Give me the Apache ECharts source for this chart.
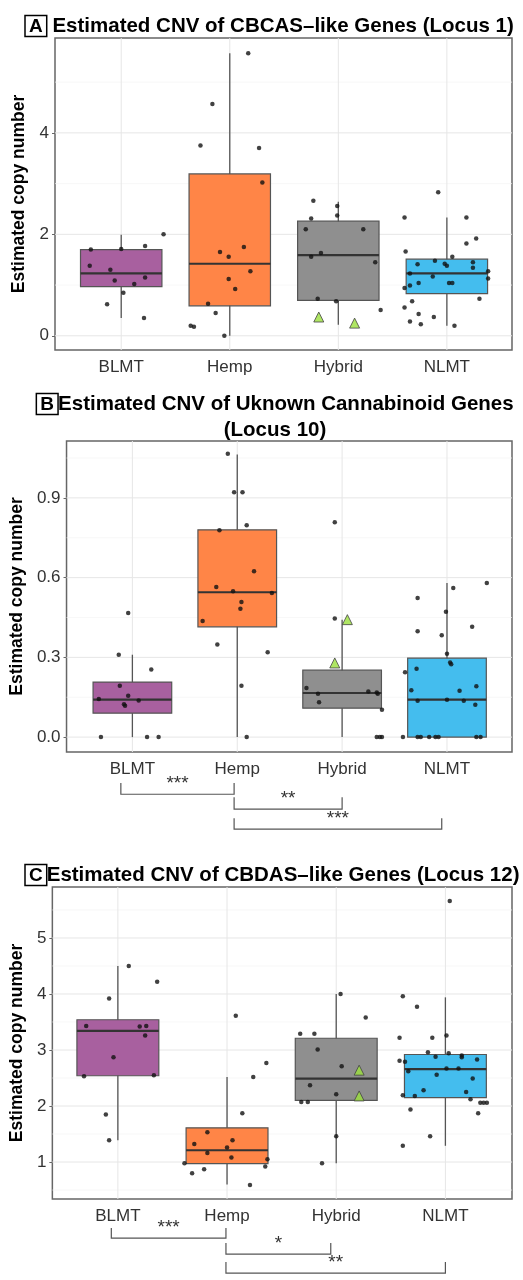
<!DOCTYPE html>
<html>
<head>
<meta charset="utf-8">
<script src="https://cdn.jsdelivr.net/npm/echarts@6/dist/echarts.min.js"></script>
<style>html,body{margin:0;padding:0;background:#fff}</style>
</head>
<body>
<div id="main" style="width:523px;height:1280px"></div>
<script>
// groups and fills
var cats = ['BLMT', 'Hemp', 'Hybrid', 'NLMT'];
var fills = ['#A8609F', '#FF8547', '#8F8F8F', '#44BDEE'];

// box stats: [x, low whisker, q1, median, q3, high whisker]
var boxA = [[1, 0.35, 0.97, 1.23, 1.70, 1.99], [2, 0, 0.59, 1.42, 3.19, 5.57], [3, 0.22, 0.70, 1.59, 2.26, 2.64], [4, 0.2, 0.83, 1.23, 1.51, 2.33]];
var boxB = [[1, 0, 0.09, 0.141, 0.207, 0.31], [2, 0, 0.415, 0.545, 0.78, 1.063], [3, 0, 0.109, 0.166, 0.252, 0.442], [4, 0, 0, 0.141, 0.297, 0.58]];
var boxC = [[1, 1.39, 2.54, 3.34, 3.54, 4.50], [2, 0.6, 0.97, 1.21, 1.61, 2.52], [3, 0.98, 2.10, 2.49, 3.21, 4.0], [4, 1.29, 2.15, 2.66, 2.92, 3.94]];

// jittered sample points [x, copy number]
var ptsA = [[0.72,1.70],[0.71,1.38],[1.0,1.71],[0.9,1.30],[0.94,1.09],[1.12,1.02],[1.02,0.85],[1.22,1.15],[1.22,1.77],[1.39,2.0],[0.87,0.62],[1.21,0.35],
  [2.17,5.57],[1.84,4.57],[1.73,3.75],[2.27,3.70],[2.30,3.02],[1.91,1.65],[1.99,1.56],[2.13,1.75],[2.19,1.27],[1.99,1.12],[2.05,0.92],[1.80,0.63],[1.87,0.45],[1.64,0.2],[1.67,0.18],[1.95,0.0],
  [2.77,2.66],[2.75,2.31],[2.70,2.10],[2.99,2.56],[2.99,2.37],[3.23,2.10],[2.75,1.56],[2.84,1.63],[3.34,1.45],[2.81,0.73],[2.98,0.68],[3.39,0.51],
  [3.92,2.83],[3.61,2.33],[4.18,2.33],[4.27,1.92],[4.18,1.82],[3.62,1.66],[3.73,1.41],[3.89,1.48],[3.98,1.42],[4.0,1.38],[4.05,1.56],[4.24,1.34],[4.24,1.45],[3.66,1.23],[3.87,1.17],[4.38,1.27],[4.38,1.13],[3.74,1.04],[3.66,0.99],[3.61,0.94],[4.02,1.04],[4.05,1.04],[4.30,0.73],[3.61,0.56],[3.68,0.68],[3.74,0.43],[3.88,0.37],[3.66,0.28],[3.76,0.23],[4.07,0.2]];
var triA = [[2.82,0.37],[3.15,0.25]];

var ptsB = [[0.87,0.31],[0.96,0.467],[0.88,0.193],[0.68,0.143],[0.96,0.156],[0.92,0.124],[0.93,0.118],[1.06,0.138],[1.18,0.254],[0.70,0],[1.14,0],[1.25,0],
  [1.91,1.066],[1.97,0.921],[2.05,0.921],[2.09,0.797],[1.83,0.778],[2.16,0.624],[1.80,0.565],[1.96,0.549],[2.04,0.508],[2.03,0.483],[2.33,0.542],[1.67,0.437],[1.81,0.348],[2.29,0.319],[2.04,0.193],[2.09,0],
  [2.93,0.808],[2.93,0.446],[2.66,0.185],[2.77,0.163],[2.78,0.131],[3.25,0.172],[3.33,0.168],[3.34,0.163],[3.38,0.103],[3.33,0],[3.36,0],[3.38,0],
  [4.38,0.58],[4.06,0.561],[3.72,0.523],[3.99,0.472],[4.24,0.415],[3.72,0.398],[3.95,0.383],[4.0,0.314],[4.03,0.281],[4.04,0.274],[3.6,0.244],[3.71,0.257],[3.66,0.176],[3.72,0.137],[4.0,0.141],[4.12,0.174],[4.16,0.137],[4.28,0.191],[4.27,0.122],
  [3.58,0],[3.72,0],[3.75,0],[3.83,0],[3.89,0],[3.92,0],[4.28,0],[4.32,0]];
var triB = [[3.05,0.442],[2.93,0.279]];

var ptsC = [[1.10,4.50],[1.36,4.22],[0.92,3.92],[0.71,3.43],[1.20,3.42],[1.26,3.43],[1.25,3.26],[0.96,2.87],[0.69,2.53],[1.33,2.55],[0.89,1.85],[0.92,1.39],
  [2.08,3.61],[2.36,2.77],[2.24,2.52],[2.14,1.87],[1.82,1.53],[1.70,1.32],[2.05,1.39],[2.0,1.26],[1.82,1.16],[2.04,1.08],[1.61,0.98],[2.37,1.05],[2.35,0.92],[1.68,0.80],[1.79,0.87],[2.21,0.59],
  [3.04,4.0],[3.27,3.58],[2.67,3.29],[2.80,3.29],[2.83,3.01],[3.05,2.71],[2.76,2.37],[3.0,2.21],[2.68,2.07],[2.74,2.07],[3.0,1.46],[2.87,0.98],
  [4.04,5.66],[3.61,3.96],[3.74,3.77],[3.58,3.22],[3.88,3.22],[4.01,3.26],[3.84,2.96],[4.03,2.94],[3.91,2.88],[4.15,2.90],[4.15,2.87],[4.29,2.83],[3.58,2.81],[3.63,2.79],[3.66,2.62],[4.01,2.67],[4.12,2.67],[3.92,2.56],[4.25,2.49],[4.19,2.25],[3.80,2.28],[3.61,2.19],[3.72,2.18],[4.23,2.12],[4.32,2.06],[4.35,2.06],[4.38,2.06],[3.68,1.94],[4.30,1.87],[3.86,1.46],[3.61,1.29]];
var triC = [[3.21,2.64],[3.21,2.18]];

// y tick labels (major) and minor grid values
var ticksA = [0, 2, 4], minorA = [1, 3, 5];
var ticksB = [0, 0.3, 0.6, 0.9], minorB = [0.15, 0.45, 0.75, 1.05];
var ticksC = [1, 2, 3, 4, 5], minorC = [0.5, 1.5, 2.5, 3.5, 4.5, 5.5];

// significance brackets [x1, x2, bar y, tick top y]
var brB = [[0.89, 1.97, -0.215, -0.173], [1.97, 3.0, -0.271, -0.226], [1.97, 3.95, -0.346, -0.305]];
var starsB = ['***', '**', '***'];
var brC = [[0.94, 1.99, -0.357, -0.179], [1.99, 2.95, -0.643, -0.446], [1.99, 4.0, -0.982, -0.786]];
var starsC = ['***', '*', '**'];

var panels = [
  { top: 38, bottom: 930, left: 55, xr: [0.39, 4.6], yr: [-0.28, 5.87], ticks: ticksA, minor: minorA, box: boxA, pts: ptsA, tri: triA, br: [], stars: [],
    title: '{b|A} Estimated CNV of CBCAS\u2013like Genes (Locus 1)', ttop: 8, fmt: function (v) { return v; } },
  { top: 441, bottom: 528, left: 52, xr: [0.372, 4.62], yr: [-0.056, 1.114], ticks: ticksB, minor: minorB, box: boxB, pts: ptsB, tri: triB, br: brB, stars: starsB,
    title: '{b|B}Estimated CNV of Uknown Cannabinoid Genes\n(Locus 10)', ttop: 386, fmt: function (v) { return v.toFixed(1); } },
  { top: 887, bottom: 81, left: 49, xr: [0.4, 4.61], yr: [0.34, 5.91], ticks: ticksC, minor: minorC, box: boxC, pts: ptsC, tri: triC, br: brC, stars: starsC,
    title: '{b|C}Estimated CNV of CBDAS\u2013like Genes (Locus 12)', ttop: 857, fmt: function (v) { return v; } }
];

var font = 'Liberation Sans, Arial, sans-serif';
var option = { animation: false, title: [], grid: [], xAxis: [], yAxis: [], series: [] };

panels.forEach(function (p, i) {
  option.title.push({
    text: p.title, top: p.ttop, left: i === 1 ? 270 : 20, textAlign: i === 1 ? 'center' : 'left',
    textStyle: { fontFamily: font, fontSize: 20.5, fontWeight: 'bold', color: '#000', lineHeight: 26,
      rich: { b: { fontFamily: font, fontSize: 19, fontWeight: 'bold', borderColor: '#000', borderWidth: 1.5, padding: [2, 4, 0, 4] } } }
  });
  option.grid.push({ left: p.left, right: 11, top: p.top, bottom: p.bottom, show: true, borderColor: '#666', borderWidth: 1.5, backgroundColor: '#fff' });
  option.xAxis.push({
    gridIndex: i, type: 'value', min: p.xr[0], max: p.xr[1],
    axisLine: { show: false }, axisTick: { show: false }, splitLine: { show: false },
    axisLabel: { customValues: [1, 2, 3, 4], formatter: function (v) { return cats[Math.round(v) - 1]; },
      fontFamily: font, fontSize: 17, color: '#333', margin: 9 }
  });
  option.yAxis.push({
    gridIndex: i, type: 'value', min: p.yr[0], max: p.yr[1],
    name: 'Estimated copy number', nameLocation: 'middle', nameGap: i === 1 ? 36 : 25,
    nameTextStyle: { fontFamily: font, fontSize: 17.5, fontWeight: 'bold', color: '#000' },
    axisLine: { show: false }, splitLine: { show: false },
    axisTick: { show: true, customValues: p.ticks, length: 3, lineStyle: { color: '#666' } },
    axisLabel: { customValues: p.ticks, formatter: p.fmt, fontFamily: font, fontSize: 17, color: '#333', margin: 6 }
  });

  // grid lines
  var lines = p.ticks.map(function (v) { return [v, 0]; })
    .concat(p.minor.filter(function (v) { return v < p.yr[1]; }).map(function (v) { return [v, 1]; }))
    .concat([1, 2, 3, 4].map(function (v) { return [v, 2]; }));
  option.series.push({
    type: 'custom', xAxisIndex: i, yAxisIndex: i, silent: true, z: 1, data: lines,
    renderItem: function (params, api) {
      var v = api.value(0), kind = api.value(1), a, b;
      if (kind === 2) { a = api.coord([v, p.yr[0]]); b = api.coord([v, p.yr[1]]); }
      else { a = api.coord([p.xr[0], v]); b = api.coord([p.xr[1], v]); }
      return { type: 'line', shape: { x1: a[0], y1: a[1], x2: b[0], y2: b[1] },
        style: { stroke: kind === 1 ? '#f3f3f3' : '#e6e6e6', lineWidth: kind === 1 ? 0.7 : 1 } };
    }
  });

  // boxes
  option.series.push({
    type: 'custom', xAxisIndex: i, yAxisIndex: i, z: 2, data: p.box,
    encode: { x: 0, y: [1, 2, 3, 4, 5] },
    renderItem: function (params, api) {
      var x = api.value(0);
      var lo = api.coord([x, api.value(1)]), q1 = api.coord([x, api.value(2)]), md = api.coord([x, api.value(3)]),
        q3 = api.coord([x, api.value(4)]), hi = api.coord([x, api.value(5)]);
      var w = api.size([0.75, 0])[0];
      return { type: 'group', children: [
        { type: 'line', shape: { x1: lo[0], y1: lo[1], x2: hi[0], y2: hi[1] }, style: { stroke: '#555', lineWidth: 1.3 } },
        { type: 'rect', shape: { x: q1[0] - w / 2, y: q3[1], width: w, height: q1[1] - q3[1] },
          style: { fill: fills[params.dataIndex], stroke: '#555', lineWidth: 1.2 } },
        { type: 'line', shape: { x1: md[0] - w / 2, y1: md[1], x2: md[0] + w / 2, y2: md[1] }, style: { stroke: '#333', lineWidth: 2.2 } }
      ] };
    }
  });

  option.series.push({ type: 'scatter', xAxisIndex: i, yAxisIndex: i, z: 3, data: p.pts, symbolSize: 4.5,
    itemStyle: { color: '#111' }, silent: true });
  option.series.push({ type: 'scatter', xAxisIndex: i, yAxisIndex: i, z: 4, data: p.tri, symbol: 'triangle', symbolSize: 10,
    itemStyle: { color: '#9BE03C', borderColor: '#444', borderWidth: 1 }, silent: true });

  if (p.br.length) {
    option.series.push({
      type: 'custom', xAxisIndex: i, yAxisIndex: i, z: 5, clip: false, silent: true, data: p.br,
      renderItem: function (params, api) {
        var a = api.coord([api.value(0), api.value(3)]), b = api.coord([api.value(0), api.value(2)]),
          c = api.coord([api.value(1), api.value(2)]), d = api.coord([api.value(1), api.value(3)]);
        return { type: 'group', children: [
          { type: 'polyline', shape: { points: [a, b, c, d] }, style: { stroke: '#555', lineWidth: 1.2, fill: null } },
          { type: 'text', x: (b[0] + c[0]) / 2, y: b[1] - 1,
            style: { text: p.stars[params.dataIndex], fontFamily: font, fontSize: 19, fill: '#333', align: 'center', verticalAlign: 'bottom' } }
        ] };
      }
    });
  }
});

var chart = echarts.init(document.getElementById('main'));
chart.setOption(option);
</script>
</body>
</html>
